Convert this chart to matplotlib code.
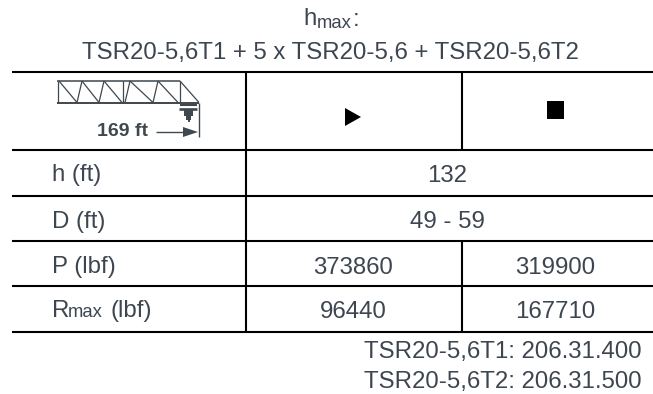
import matplotlib
matplotlib.use("Agg")
import matplotlib.pyplot as plt
from matplotlib.patches import Polygon, Rectangle

W, H = 653, 394
title_line = "TSR20-5,6T1 + 5 x TSR20-5,6 + TSR20-5,6T2"
row_labels = ["h (ft)", "D (ft)", "P (lbf)"]
merged_values = ["132", "49 - 59"]
col1_values = ["373860", "96440"]
col2_values = ["319900", "167710"]
footnotes = ["TSR20-5,6T1: 206.31.400", "TSR20-5,6T2: 206.31.500"]
jib_label = "169 ft"

TXT = "#3d4650"
DK = "#3f484e"
plt.rcParams["font.family"] = ["Liberation Sans", "DejaVu Sans"]
fig = plt.figure(figsize=(W/100, H/100), dpi=100)
ax = fig.add_axes([0, 0, 1, 1])
ax.set_xlim(0, W); ax.set_ylim(H, 0); ax.axis("off")
FS = 17.25
FSS = 13.3

def tx(x, y, s, fs=FS, ha="left", **kw):
    ax.text(x, y, s, fontsize=fs, color=kw.pop("color", TXT), ha=ha, va="baseline", **kw)

# title
tx(303, 25, "h")
tx(317, 28, "max", FSS)
tx(352.5, 26, ":")
tx(330, 59, title_line, ha="center")

# grid
ys = [72, 150, 196, 241, 286, 332]
L, R, X1, X2 = 12, 653, 246, 462
LW = 1.5
for y in ys:
    ax.plot([L, R], [y, y], color="black", lw=LW, solid_capstyle="butt")
ax.plot([X1, X1], [72, 332], color="black", lw=LW, solid_capstyle="butt")
ax.plot([X2, X2], [72, 150], color="black", lw=LW, solid_capstyle="butt")
ax.plot([X2, X2], [241, 332], color="black", lw=LW, solid_capstyle="butt")

# markers
ax.add_patch(Polygon([[345, 108], [361, 117], [345, 126]], color="black", lw=0))
ax.add_patch(Rectangle((547, 101), 17, 18, color="black", lw=0))

# row labels
for lab, y in zip(row_labels, [181, 228, 273]):
    tx(52, y, lab)
tx(52, 317, "R")
tx(67.5, 317, "max", FSS)
tx(110, 317, "(lbf)")

# values
tx(447, 182, merged_values[0], ha="center")
tx(447, 228, merged_values[1], ha="center")
for i, y in enumerate([274, 318]):
    tx(353, y, col1_values[i], ha="center")
    tx(555.5, y, col2_values[i], ha="center")

# footnotes
tx(642, 358, footnotes[0], ha="right")
tx(642, 388, footnotes[1], ha="right")

# jib icon
def ln(xs, ys_, lw=0.9):
    ax.plot(xs, ys_, color=DK, lw=lw, solid_capstyle="butt")
top, bot = 81, 102.5
ln([57, 180], [top, top], 1.1)
ln([57, 199], [bot, bot], 1.4)
for x in [58, 123, 180]:
    ln([x, x], [top, bot])
for a, b in [(59, 77), (82, 77), (82, 99), (104, 99), (104, 122), (130, 125),
             (130, 153), (158, 153), (158, 178), (180, 199)]:
    ln([a, b], [top, bot])
ln([199, 199], [bot, 137], 1.0)
# hook block
ln([180, 197], [105, 105], 1.5)
ln([179, 197], [108.5, 108.5], 1.9)
ax.add_patch(Rectangle((184, 110), 9, 6, color=DK, lw=0))
ax.add_patch(Rectangle((186, 116), 5, 4, color=DK, lw=0))
ln([188.5, 188.5], [120, 122], 1.4)
# dimension
tx(97, 136, jib_label, 14, fontweight="bold", color=DK)
ln([156, 184], [132, 132], 1.0)
ax.add_patch(Polygon([[183, 127], [198, 132], [183, 137]], color=DK, lw=0))

fig.savefig("out.png", dpi=100)
